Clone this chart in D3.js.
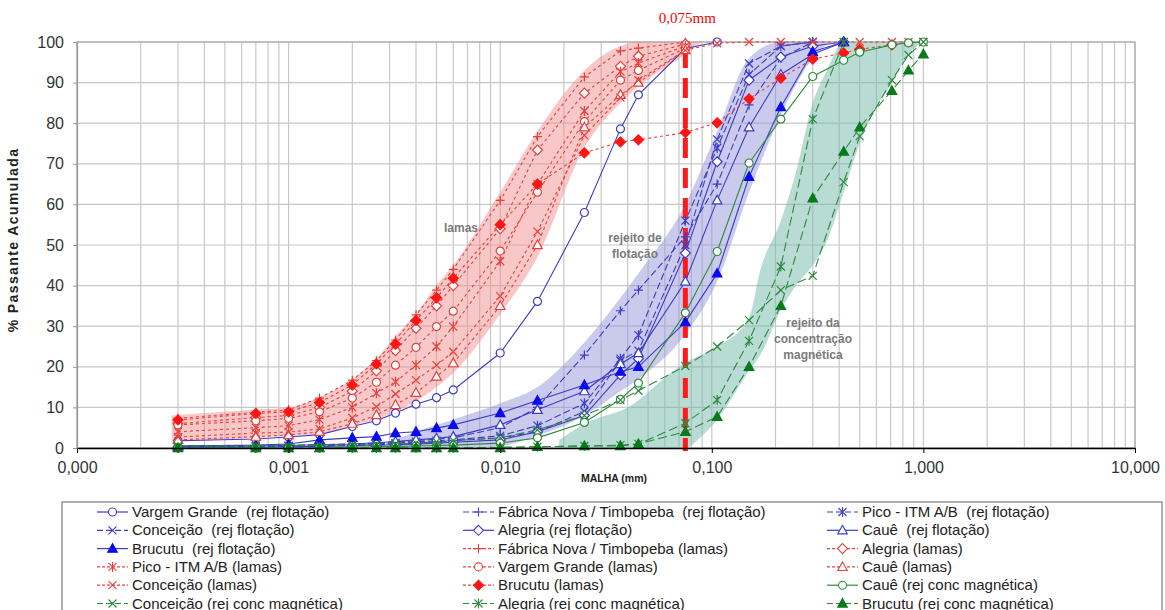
<!DOCTYPE html>
<html>
<head>
<meta charset="utf-8">
<script src="https://d3js.org/d3.v7.min.js"></script>
<style>
body { margin: 0; background: #fff; }
text { font-family: Arial, "Liberation Sans", sans-serif; }
</style>
</head>
<body>
<div id="chart"></div>
<script>
// Sieve sizes (mm)
var sizes = [0.0003, 0.0007, 0.001, 0.0014, 0.002, 0.0026, 0.0032, 0.004, 0.005, 0.006,
             0.010, 0.015, 0.025, 0.037, 0.045, 0.075, 0.106, 0.15, 0.212, 0.30,
             0.42, 0.50, 0.71, 0.85, 1.0];
var N = null;

// rejeito de flotação
var vargemFlot    = [1.8, 2.2, 2.7, 3.3, 5.3, 6.7, 8.6, 10.8, 12.4, 14.3, 23.4, 36.1, 58, 78.6, 87, 98.4, 100, N, N, N, N, N, N, N, N];
var fabricaFlot   = [0.5, 0.6, 0.7, 0.8, 1, 1.2, 1.5, 1.8, 2.2, 2.5, 5, 10, 22.9, 33.8, 38.9, 52, 65, 84.5, 96, 100, N, N, N, N, N];
var picoFlot      = [0.3, 0.4, 0.5, 0.6, 0.8, 1, 1.2, 1.5, 1.8, 2, 3, 5.5, 11, 22, 27.8, 56, 73.9, 92, 99, 100, N, N, N, N, N];
var conceicaoFlot = [0.2, 0.3, 0.4, 0.5, 0.6, 0.8, 1, 1.2, 1.5, 1.8, 2.5, 4, 9, 21.5, 24, 50, 76, 94.7, 99, 100, N, N, N, N, N];
var alegriaFlot   = [0.2, 0.2, 0.3, 0.4, 0.5, 0.6, 0.8, 1, 1.2, 1.4, 2, 4, 8, 18, 22, 48, 70.5, 90.6, 96.3, 99, 100, N, N, N, N];
var caueFlot      = [0.4, 0.5, 0.6, 0.8, 1, 1.3, 1.6, 2, 2.4, 2.8, 5.7, 9.4, 14, 20.7, 23.4, 41, 61, 79, 92, 97, 100, N, N, N, N];
var brucutuFlot   = [0.5, 0.7, 1, 2, 2.5, 2.8, 3.7, 4, 4.9, 5.7, 8.6, 11.7, 15.5, 18.8, 20, 31, 43, 66.8, 84, 97.6, 100, N, N, N, N];

// lamas
var fabricaLamas   = [7.3, 8.8, 9.4, 12.3, 16.7, 21.5, 26.6, 32.8, 38.9, 44, 61, 76.7, 91.4, 97.8, 98.5, 100, N, N, N, N, N, N, N, N, N];
var alegriaLamas   = [6, 7.5, 8, 10, 14, 19, 24, 29.5, 35, 40, 54, 73.4, 87.4, 94, 96.5, 99.5, N, N, N, N, N, N, N, N, N];
var picoLamas      = [4, 5, 5.5, 7, 10, 13.5, 16.3, 20.4, 25, 29.9, 46, 65, 83, 92.7, 94.8, 99, N, N, N, N, N, N, N, N, N];
var vargemLamas    = [5.7, 6.7, 7.3, 8.9, 12.3, 16.2, 20.4, 24.8, 29.9, 33.7, 48.5, 63, 80.4, 90.6, 93, 98.5, N, N, N, N, N, N, N, N, N];
var caueLamas      = [2, 2.8, 3.2, 4, 6, 8.1, 10.6, 13.6, 17.6, 20.9, 35, 50, 79, 87, 90, 98, N, N, N, N, N, N, N, N, N];
var conceicaoLamas = [2.7, 3.7, 3.9, 4.7, 7.4, 10.2, 13.3, 16.7, 20.4, 23.7, 37.4, 53.3, 77, 86.3, 90.6, 98, 99.7, 100, 100, 100, 100, 100, 100, 100, 100];
var brucutuLamas   = [6.9, 8.5, 8.9, 11.2, 15.5, 20.7, 25.6, 31.4, 37, 41.8, 55, 65, 72.7, 75.4, 75.9, 77.7, 80.1, 86, 91.1, 95.8, 97.3, 98.2, 99.3, N, N];

// rejeito da concentração magnética
var caueMag      = [0, 0, 0, 0, 0.2, 0.3, 0.4, 0.5, 0.6, 0.7, 1.2, 2.5, 6.3, 12, 16, 33.3, 48.4, 70.2, 81, 91.5, 95.5, 97.5, 99.3, 99.8, 100];
var conceicaoMag = [0.5, 0.5, 0.6, 0.7, 0.8, 1, 1, 1.2, 1.5, 1.8, 2.5, 4.5, 8, 11.8, 14.1, 20.2, 25, 31.5, 38.9, 42.4, 65.5, 76.8, 90.6, 96.8, 100];
var alegriaMag   = [0, 0, 0, 0, 0, 0, 0, 0, 0, 0, 0.2, 0.3, 0.5, 0.7, 1, 6.1, 11.8, 26.4, 44.7, 81, 100, N, N, N, N];
var brucutuMag   = [0, 0, 0, 0, 0, 0, 0, 0, 0, 0, 0, 0.3, 0.5, 0.5, 1, 4, 7.7, 20, 35, 61.5, 73, 79, 88, 93, 97];

// shaded envelopes (size, lower, upper)
var lamasBandSize  = [0.00028, 0.0007, 0.001, 0.0014, 0.002, 0.0026, 0.0032, 0.004, 0.005, 0.006, 0.010, 0.015, 0.025, 0.037, 0.045, 0.075, 0.09];
var lamasBandLow   = [1.5, 2.5, 3, 3.5, 5.5, 7, 9, 11.5, 15, 18.5, 33, 47, 74, 85, 89, 97, 100];
var lamasBandHigh  = [8, 9.5, 10, 12.5, 17, 22, 27.5, 33, 40, 45, 63, 78, 93, 99, 100, 100, 100];
var flotBandSize   = [0.003, 0.004, 0.006, 0.010, 0.015, 0.025, 0.037, 0.045, 0.075, 0.106, 0.15, 0.212, 0.30, 0.36];
var flotBandLow    = [0, 0, 0, 0.5, 3, 8, 14, 17, 28, 41, 63, 82, 96, 100];
var flotBandHigh   = [1.5, 4, 7, 11, 15, 26, 37, 43, 60, 78, 96, 100, 100, 100];
var magBandSize    = [0.019, 0.025, 0.04, 0.075, 0.09, 0.106, 0.15, 0.17, 0.212, 0.25, 0.30, 0.35, 0.42, 0.5, 0.6, 0.71, 0.85, 1.0];
var magBandLow     = [0, 0, 0, 0, 3, 7, 19, 23, 34, 40, 45, 51, 63, 75, 84, 90, 97, 100];
var magBandHigh    = [2, 6, 10, 21, 23, 25, 32, 44, 56, 68, 85, 93, 100, 100, 100, 100, 100, 100];

var xTicks = [0.0001, 0.001, 0.01, 0.1, 1, 10];
var yTicks = [0, 10, 20, 30, 40, 50, 60, 70, 80, 90, 100];
var cutSize = 0.075;

var blue = "#3c3cc4", blueFill = "#0a0af0";
var red = "#e8403c", redFill = "#ff1414";
var green = "#2e8a3c", greenFill = "#087a1c";

var series = [
  {name: "Vargem Grande  (rej flotação)", v: vargemFlot, c: blue, dash: null, m: "circle"},
  {name: "Fábrica Nova / Timbopeba  (rej flotação)", v: fabricaFlot, c: blue, dash: "7,3", m: "plus"},
  {name: "Pico - ITM A/B  (rej flotação)", v: picoFlot, c: blue, dash: "7,3", m: "star"},
  {name: "Conceição  (rej flotação)", v: conceicaoFlot, c: blue, dash: "7,3", m: "x"},
  {name: "Alegria (rej flotação)", v: alegriaFlot, c: blue, dash: null, m: "diamond"},
  {name: "Cauê  (rej flotação)", v: caueFlot, c: blue, dash: null, m: "triangle"},
  {name: "Brucutu  (rej flotação)", v: brucutuFlot, c: blue, dash: null, m: "triangle", fill: blueFill},
  {name: "Fábrica Nova / Timbopeba (lamas)", v: fabricaLamas, c: red, dash: "3,3", m: "plus"},
  {name: "Alegria (lamas)", v: alegriaLamas, c: red, dash: "3,3", m: "diamond"},
  {name: "Pico - ITM A/B (lamas)", v: picoLamas, c: red, dash: "3,3", m: "star"},
  {name: "Vargem Grande (lamas)", v: vargemLamas, c: red, dash: "3,3", m: "circle"},
  {name: "Cauê (lamas)", v: caueLamas, c: red, dash: "3,3", m: "triangle"},
  {name: "Conceição (lamas)", v: conceicaoLamas, c: red, dash: "3,3", m: "x"},
  {name: "Brucutu (lamas)", v: brucutuLamas, c: red, dash: "3,3", m: "diamond", fill: redFill},
  {name: "Cauê (rej conc magnética)", v: caueMag, c: green, dash: null, m: "circle"},
  {name: "Conceição (rej conc magnética)", v: conceicaoMag, c: green, dash: "9,4", m: "x"},
  {name: "Alegria (rej conc magnética)", v: alegriaMag, c: green, dash: "9,4", m: "star"},
  {name: "Brucutu (rej conc magnética)", v: brucutuMag, c: green, dash: "9,4", m: "triangle", fill: greenFill}
];

var W = 1165, H = 610;
var plot = {left: 77, right: 1135, top: 42, bottom: 448};

var svg = d3.select("#chart").append("svg")
    .attr("width", W).attr("height", H);

var x = d3.scaleLog().domain([0.0001, 10]).range([plot.left, plot.right]);
var y = d3.scaleLinear().domain([0, 100]).range([plot.bottom, plot.top]);

// grid
var minorX = [];
for (var e = -4; e <= 0; e++) for (var k = 1; k <= 9; k++) minorX.push(k * Math.pow(10, e));
minorX.push(10);

var grid = svg.append("g").attr("stroke", "#c8c8c8").attr("stroke-width", 1.2);
grid.selectAll(".vx").data(minorX).join("line")
    .attr("x1", d => x(d)).attr("x2", d => x(d))
    .attr("y1", plot.top).attr("y2", plot.bottom);
grid.selectAll(".hy").data(yTicks).join("line")
    .attr("x1", plot.left).attr("x2", plot.right)
    .attr("y1", d => y(d)).attr("y2", d => y(d));
svg.append("rect")
    .attr("x", plot.left).attr("y", plot.top)
    .attr("width", plot.right - plot.left).attr("height", plot.bottom - plot.top)
    .attr("fill", "none").attr("stroke", "#a8a8a8").attr("stroke-width", 1.2);

// bands
var area = d3.area()
    .x(d => x(d.s)).y0(d => y(d.lo)).y1(d => y(d.hi))
    .curve(d3.curveMonotoneX);
function bandRows(s, lo, hi) {
  return s.map((d, i) => ({s: d, lo: lo[i], hi: hi[i]}));
}
svg.append("path").attr("d", area(bandRows(lamasBandSize, lamasBandLow, lamasBandHigh)))
    .attr("fill", "#f08a8a").attr("fill-opacity", 0.48);
svg.append("path").attr("d", area(bandRows(flotBandSize, flotBandLow, flotBandHigh)))
    .attr("fill", "#9090d8").attr("fill-opacity", 0.48);
svg.append("path").attr("d", area(bandRows(magBandSize, magBandLow, magBandHigh)))
    .attr("fill", "#72b8aa").attr("fill-opacity", 0.5);

// cut line at 0,075 mm
svg.append("line")
    .attr("x1", x(cutSize)).attr("x2", x(cutSize))
    .attr("y1", 48).attr("y2", 451)
    .attr("stroke", "#ff1a1a").attr("stroke-width", 5)
    .attr("stroke-dasharray", "20,10");
svg.append("text")
    .attr("x", x(cutSize) + 2).attr("y", 23)
    .attr("text-anchor", "middle")
    .style("font-family", "'Liberation Serif', 'Times New Roman', serif")
    .style("font-size", "15px").attr("fill", "#ff0000")
    .text("0,075mm");

// markers
function markerPath(m) {
  switch (m) {
    case "circle": return "M-4,0a4,4 0 1,0 8,0a4,4 0 1,0 -8,0Z";
    case "diamond": return "M0,-5L5,0L0,5L-5,0Z";
    case "triangle": return "M0,-5L4.8,3.6L-4.8,3.6Z";
    case "plus": return "M-4.5,0H4.5M0,-4.5V4.5";
    case "x": return "M-4,-4L4,4M-4,4L4,-4";
    case "star": return "M-4,-4L4,4M-4,4L4,-4M0,-5V5";
  }
}
function isOpen(m) { return m === "circle" || m === "diamond" || m === "triangle"; }

var line = d3.line()
    .defined(d => d.v != null)
    .x(d => x(d.s)).y(d => y(d.v));

var lineG = svg.append("g");
series.forEach(function(s) {
  var pts = sizes.map((d, i) => ({s: d, v: s.v[i]}));
  lineG.append("path")
      .attr("d", line(pts))
      .attr("fill", "none")
      .attr("stroke", s.c).attr("stroke-width", 1.1)
      .attr("stroke-dasharray", s.dash);
});

var markG = svg.append("g");
series.forEach(function(s) {
  var pts = sizes.map((d, i) => ({s: d, v: s.v[i]})).filter(d => d.v != null);
  markG.append("g").selectAll("path").data(pts).join("path")
      .attr("transform", d => "translate(" + x(d.s) + "," + y(d.v) + ")")
      .attr("d", markerPath(s.m))
      .attr("fill", s.fill ? s.fill : (isOpen(s.m) ? "#fff" : "none"))
      .attr("stroke", s.fill ? s.fill : s.c)
      .attr("stroke-width", 1.2);
});

// region labels
function note(lines, cx, cy) {
  var t = svg.append("text").attr("text-anchor", "middle")
      .style("font-size", "12px").style("font-weight", "bold")
      .attr("fill", "#7a7a7a");
  lines.forEach(function(l, i) {
    t.append("tspan").attr("x", cx).attr("y", cy + i * 16).text(l);
  });
}
note(["lamas"], 461, 232);
note(["rejeito de", "flotação"], 635, 242);
note(["rejeito da", "concentração", "magnética"], 813, 327);

// axes
var xAxis = d3.axisBottom(x).tickValues(xTicks)
    .tickFormat(d => d.toFixed(3).replace(".", ","))
    .tickSize(5).tickSizeOuter(0).tickPadding(9);
var gx = svg.append("g").attr("transform", "translate(0," + plot.bottom + ")").call(xAxis);
gx.select(".domain").attr("stroke", "#000").attr("stroke-width", 1.5);
gx.selectAll(".tick line").attr("stroke", "#000");
gx.selectAll("text").style("font-size", "16px").attr("fill", "#333");

var yAxis = d3.axisLeft(y).tickValues(yTicks).tickSize(4).tickSizeOuter(0).tickPadding(9);
var gy = svg.append("g").attr("transform", "translate(" + plot.left + ",0)").call(yAxis);
gy.select(".domain").attr("stroke", "#999").attr("stroke-width", 1.2);
gy.selectAll(".tick line").attr("stroke", "#999");
gy.selectAll("text").style("font-size", "16px").attr("fill", "#333");

svg.append("text")
    .attr("x", 614).attr("y", 482).attr("text-anchor", "middle")
    .style("font-size", "10.5px").style("font-weight", "bold").attr("fill", "#222")
    .text("MALHA (mm)");
svg.append("text")
    .attr("transform", "translate(18,240) rotate(-90)")
    .attr("text-anchor", "middle")
    .style("font-size", "14px").style("font-weight", "bold")
    .style("letter-spacing", "1.4px").attr("fill", "#222")
    .text("% Passante Acumulada");

// legend
svg.append("rect")
    .attr("x", 62).attr("y", 502).attr("width", 1100).attr("height", 130)
    .attr("fill", "#fff").attr("stroke", "#7a7a7a").attr("stroke-width", 1.2);
var colX = [97, 463, 827];
var leg = svg.append("g").selectAll("g").data(series).join("g")
    .attr("transform", (d, i) => "translate(" + colX[i % 3] + "," + (512 + Math.floor(i / 3) * 18.3) + ")");
leg.append("line")
    .attr("x1", 0).attr("x2", 31).attr("y1", 0).attr("y2", 0)
    .attr("stroke", d => d.c).attr("stroke-width", 1.2)
    .attr("stroke-dasharray", d => d.dash ? (d.dash === "3,3" ? "3,2" : "6,3") : null);
leg.append("path")
    .attr("transform", "translate(15.5,0)")
    .attr("d", d => markerPath(d.m))
    .attr("fill", d => d.fill ? d.fill : (isOpen(d.m) ? "#fff" : "none"))
    .attr("stroke", d => d.fill ? d.fill : d.c).attr("stroke-width", 1.1);
leg.append("text")
    .attr("x", 35).attr("y", 5)
    .style("font-size", "15px").style("white-space", "pre").attr("fill", "#222")
    .text(d => d.name);
</script>
</body>
</html>
